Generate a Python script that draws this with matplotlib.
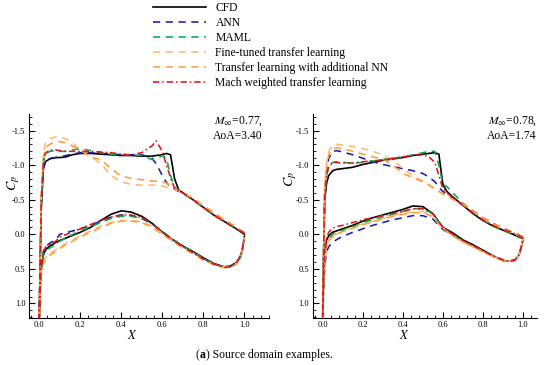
import matplotlib
matplotlib.use("Agg")
import matplotlib.pyplot as plt
from matplotlib.ticker import MultipleLocator, FormatStrFormatter

plt.rcParams['font.family'] = ['Liberation Serif', 'DejaVu Serif']
plt.rcParams['mathtext.fontset'] = 'stix'
plt.rcParams['axes.unicode_minus'] = False

# ---------------- data ----------------
# upper surface sample positions
XU_L = [0.0, 0.005, 0.01, 0.02, 0.03, 0.05, 0.08, 0.1, 0.13, 0.16, 0.2, 0.25, 0.3, 0.35, 0.4, 0.45,
        0.5, 0.55, 0.57, 0.6, 0.62, 0.64, 0.66, 0.68, 0.7, 0.75, 0.8, 0.85, 0.9, 0.95, 0.98, 1.0]
XU_R = [0.0, 0.005, 0.01, 0.02, 0.03, 0.05, 0.07, 0.1, 0.15, 0.2, 0.25, 0.3, 0.35, 0.4, 0.45, 0.5,
        0.53, 0.56, 0.58, 0.6, 0.62, 0.65, 0.7, 0.75, 0.8, 0.85, 0.9, 0.95, 0.98, 1.0]
# lower surface sample positions (both cases)
X_LOWER = [0.0, 0.005, 0.01, 0.02, 0.03, 0.05, 0.08, 0.1, 0.15, 0.2, 0.25, 0.3, 0.35, 0.4, 0.45,
           0.5, 0.55, 0.6, 0.65, 0.7, 0.75, 0.8, 0.85, 0.9, 0.93, 0.96, 0.98, 0.99, 1.0]

# case 1: Ma=0.77, AoA=3.40
cfd_up_1 = [1.2, 0.3, -0.4, -0.95, -1.05, -1.09, -1.11, -1.11, -1.12, -1.15, -1.17, -1.17, -1.16, -1.15, -1.14, -1.14,
            -1.13, -1.13, -1.14, -1.15, -1.17, -1.15, -0.8, -0.64, -0.6, -0.5, -0.39, -0.28, -0.19, -0.1, -0.04, 0.0]
ann_up_1 = [1.2, 0.3, -0.4, -0.95, -1.05, -1.1, -1.11, -1.12, -1.14, -1.16, -1.18, -1.18, -1.17, -1.16, -1.15, -1.15,
            -1.15, -1.1, -1.02, -0.85, -0.75, -0.68, -0.65, -0.62, -0.59, -0.5, -0.39, -0.28, -0.19, -0.1, -0.05, -0.02]
maml_up_1 = [1.2, 0.3, -0.5, -1.05, -1.15, -1.2, -1.21, -1.2, -1.2, -1.22, -1.24, -1.21, -1.18, -1.16, -1.15, -1.15,
             -1.14, -1.08, -1.09, -1.14, -1.1, -0.85, -0.68, -0.63, -0.6, -0.5, -0.39, -0.28, -0.19, -0.1, -0.05, -0.02]
ft_up_1 = [1.2, 0.3, -0.6, -1.15, -1.32, -1.38, -1.41, -1.41, -1.38, -1.33, -1.22, -1.12, -1.03, -0.85, -0.76, -0.72,
           -0.71, -0.71, -0.71, -0.7, -0.68, -0.67, -0.65, -0.63, -0.61, -0.52, -0.42, -0.32, -0.22, -0.13, -0.07, -0.02]
tlnn_up_1 = [1.2, 0.3, -0.6, -1.1, -1.25, -1.3, -1.34, -1.34, -1.32, -1.28, -1.22, -1.12, -1.08, -0.95, -0.84, -0.81,
             -0.79, -0.77, -0.77, -0.76, -0.74, -0.7, -0.66, -0.63, -0.6, -0.51, -0.41, -0.31, -0.21, -0.12, -0.06, -0.02]
mach_up_1 = [1.2, 0.3, -0.5, -1.05, -1.17, -1.22, -1.22, -1.21, -1.2, -1.2, -1.2, -1.2, -1.19, -1.18, -1.16, -1.15,
             -1.18, -1.28, -1.35, -1.2, -1.0, -0.82, -0.66, -0.63, -0.6, -0.5, -0.39, -0.28, -0.19, -0.1, -0.05, -0.02]

cfd_lo_1 = [1.2, 0.75, 0.5, 0.3, 0.23, 0.17, 0.12, 0.09, 0.03, -0.03, -0.1, -0.2, -0.29, -0.34, -0.32,
            -0.26, -0.16, -0.03, 0.08, 0.17, 0.25, 0.34, 0.42, 0.47, 0.46, 0.41, 0.32, 0.22, 0.03]
ann_lo_1 = [1.2, 0.7, 0.45, 0.25, 0.18, 0.13, 0.08, 0.0, -0.04, -0.08, -0.13, -0.19, -0.25, -0.28, -0.27,
            -0.23, -0.15, -0.04, 0.07, 0.17, 0.26, 0.35, 0.43, 0.47, 0.47, 0.42, 0.33, 0.22, 0.05]
maml_lo_1 = [1.2, 0.75, 0.5, 0.3, 0.24, 0.2, 0.14, 0.1, 0.02, -0.05, -0.11, -0.17, -0.23, -0.26, -0.26,
             -0.23, -0.15, -0.04, 0.07, 0.17, 0.26, 0.35, 0.43, 0.47, 0.47, 0.43, 0.34, 0.23, 0.05]
ft_lo_1 = [1.2, 0.8, 0.55, 0.4, 0.34, 0.28, 0.22, 0.18, 0.1, 0.02, -0.05, -0.12, -0.17, -0.2, -0.2,
           -0.18, -0.12, -0.02, 0.09, 0.19, 0.27, 0.36, 0.43, 0.47, 0.47, 0.42, 0.33, 0.22, 0.04]
tlnn_lo_1 = [1.2, 0.8, 0.58, 0.42, 0.36, 0.3, 0.25, 0.2, 0.12, 0.04, -0.03, -0.1, -0.16, -0.19, -0.19,
             -0.17, -0.1, 0.0, 0.1, 0.2, 0.28, 0.37, 0.44, 0.48, 0.47, 0.43, 0.34, 0.22, 0.04]
mach_lo_1 = [1.2, 0.7, 0.45, 0.25, 0.19, 0.15, 0.1, 0.04, -0.02, -0.08, -0.14, -0.2, -0.25, -0.28, -0.28,
             -0.24, -0.15, -0.03, 0.08, 0.18, 0.27, 0.36, 0.43, 0.48, 0.47, 0.42, 0.33, 0.22, 0.04]

# case 2: Ma=0.78, AoA=1.74
cfd_up_2 = [1.2, 0.2, -0.5, -0.75, -0.85, -0.92, -0.94, -0.95, -0.97, -1.01, -1.04, -1.07, -1.09, -1.11, -1.14, -1.16,
            -1.17, -1.18, -1.16, -0.72, -0.62, -0.54, -0.42, -0.3, -0.2, -0.12, -0.06, 0.0, 0.04, 0.06]
ann_up_2 = [1.2, 0.2, -0.6, -0.95, -1.1, -1.2, -1.21, -1.19, -1.15, -1.1, -1.05, -1.01, -0.98, -0.95, -0.92, -0.88,
            -0.83, -0.76, -0.68, -0.62, -0.58, -0.52, -0.44, -0.34, -0.24, -0.16, -0.09, -0.03, 0.01, 0.04]
maml_up_2 = [1.2, 0.2, -0.55, -0.85, -0.98, -1.04, -1.05, -1.04, -1.03, -1.04, -1.06, -1.08, -1.1, -1.12, -1.15, -1.18,
             -1.2, -1.2, -1.0, -0.72, -0.69, -0.6, -0.45, -0.32, -0.21, -0.12, -0.06, 0.0, 0.03, 0.05]
ft_up_2 = [1.2, 0.2, -0.7, -1.05, -1.2, -1.29, -1.3, -1.29, -1.27, -1.24, -1.2, -1.15, -1.07, -0.95, -0.85, -0.77,
           -0.72, -0.66, -0.62, -0.58, -0.55, -0.5, -0.43, -0.33, -0.23, -0.15, -0.08, -0.02, 0.02, 0.05]
tlnn_up_2 = [1.2, 0.2, -0.65, -1.0, -1.15, -1.24, -1.25, -1.24, -1.2, -1.16, -1.12, -1.09, -1.0, -0.88, -0.82, -0.76,
             -0.71, -0.66, -0.62, -0.59, -0.56, -0.51, -0.44, -0.34, -0.24, -0.16, -0.09, -0.03, 0.01, 0.04]
mach_up_2 = [1.2, 0.2, -0.55, -0.88, -0.98, -1.04, -1.04, -1.03, -1.03, -1.05, -1.06, -1.08, -1.1, -1.12, -1.14, -1.15,
             -1.12, -1.04, -0.85, -0.66, -0.6, -0.53, -0.42, -0.31, -0.21, -0.13, -0.07, -0.02, 0.02, 0.05]

cfd_lo_2 = [1.2, 0.6, 0.3, 0.08, 0.02, -0.03, -0.06, -0.08, -0.13, -0.19, -0.24, -0.28, -0.32, -0.36, -0.41,
            -0.4, -0.3, -0.1, -0.02, 0.08, 0.15, 0.23, 0.31, 0.38, 0.39, 0.37, 0.3, 0.2, 0.08]
ann_lo_2 = [1.2, 0.7, 0.45, 0.25, 0.18, 0.11, 0.06, 0.03, -0.03, -0.08, -0.13, -0.17, -0.21, -0.24, -0.27,
            -0.27, -0.22, -0.07, 0.02, 0.1, 0.17, 0.24, 0.31, 0.37, 0.39, 0.37, 0.3, 0.2, 0.07]
maml_lo_2 = [1.2, 0.6, 0.35, 0.12, 0.06, 0.0, -0.04, -0.06, -0.11, -0.17, -0.21, -0.25, -0.29, -0.33, -0.37,
             -0.37, -0.3, -0.1, 0.01, 0.1, 0.17, 0.24, 0.31, 0.37, 0.4, 0.38, 0.31, 0.21, 0.06]
ft_lo_2 = [1.2, 0.65, 0.4, 0.15, 0.08, 0.02, -0.02, -0.05, -0.1, -0.15, -0.19, -0.23, -0.27, -0.3, -0.32,
           -0.33, -0.27, -0.09, 0.02, 0.11, 0.18, 0.25, 0.32, 0.37, 0.39, 0.37, 0.3, 0.2, 0.06]
tlnn_lo_2 = [1.2, 0.65, 0.4, 0.15, 0.09, 0.03, -0.01, -0.04, -0.09, -0.14, -0.18, -0.22, -0.26, -0.29, -0.31,
             -0.32, -0.25, -0.08, 0.02, 0.11, 0.18, 0.25, 0.32, 0.38, 0.4, 0.38, 0.31, 0.2, 0.06]
mach_lo_2 = [1.2, 0.6, 0.3, 0.05, -0.03, -0.09, -0.12, -0.13, -0.17, -0.21, -0.24, -0.27, -0.3, -0.33, -0.37,
             -0.37, -0.3, -0.1, 0.0, 0.09, 0.16, 0.24, 0.31, 0.37, 0.39, 0.37, 0.3, 0.2, 0.07]

LABELS = ['CFD', 'ANN', 'MAML', 'Fine-tuned transfer learning',
          'Transfer learning with additional NN', 'Mach weighted transfer learning']
CASE_TEXT = ['$M_{\\infty}$=0.77,\nAoA=3.40', '$M_{\\infty}$=0.78,\nAoA=1.74']

# ---------------- styles ----------------
STYLES = [
    dict(color='black', lw=1.2, ls='-'),
    dict(color='#1c1caa', lw=1.15, ls=(0, (4.5, 3.5))),
    dict(color='#00ad4f', lw=1.15, ls=(0, (4.5, 3.5))),
    dict(color='#ffb774', lw=1.15, ls=(0, (4.5, 3.5))),
    dict(color='#ff9c3a', lw=1.15, ls=(0, (4.5, 3.5))),
    dict(color='#e3141c', lw=1.15, ls=(0, (4.0, 1.8, 1.0, 1.8))),
]


def loop(xu, cu, xl, cl):
    """upper surface from TE to LE, then lower surface LE to TE"""
    return list(xu[::-1]) + list(xl[1:]), list(cu[::-1]) + list(cl[1:])


def draw_case(ax, xu, ups, lows, xmax, text, text_x, ylab_x, ylab_y, xlab_x):
    lines = []
    for cu, cl, st, lab in zip(ups, lows, STYLES, LABELS):
        x, c = loop(xu, cu, X_LOWER, cl)
        ln, = ax.plot(x, c, label=lab, **st)
        lines.append(ln)
    ax.set_xlim(-0.05, xmax)
    ax.set_ylim(1.21, -1.74)
    ax.spines['top'].set_visible(False)
    ax.spines['right'].set_visible(False)
    ax.xaxis.set_major_locator(MultipleLocator(0.2))
    ax.xaxis.set_minor_locator(MultipleLocator(0.04))
    ax.yaxis.set_major_locator(MultipleLocator(0.5))
    ax.yaxis.set_minor_locator(MultipleLocator(0.1))
    ax.xaxis.set_major_formatter(FormatStrFormatter('%.1f'))
    ax.yaxis.set_major_formatter(FormatStrFormatter('%.1f'))
    ax.tick_params(which='both', direction='in', labelsize=6, pad=2.5)
    ax.tick_params(which='major', length=4.5, width=0.8)
    ax.tick_params(which='minor', length=2.4, width=0.6)
    ax.set_xlabel('$X$', fontsize=9)
    ax.set_ylabel('$C_p$', fontsize=10)
    ax.xaxis.set_label_coords(xlab_x, -0.055)
    ax.yaxis.set_label_coords(ylab_x, ylab_y)
    ax.text(text_x, 0.998, text, transform=ax.transAxes,
            ha='right', va='top', multialignment='center', fontsize=8.4, linespacing=1.2)
    return lines


fig = plt.figure(figsize=(5.5, 3.65), dpi=100)
ax1 = fig.add_axes([29 / 550, 1 - 318 / 365, 240 / 550, 204 / 365])
ax2 = fig.add_axes([312.7 / 550, 1 - 318 / 365, 224.3 / 550, 204 / 365])

handles = draw_case(ax1, XU_L,
                    [cfd_up_1, ann_up_1, maml_up_1, ft_up_1, tlnn_up_1, mach_up_1],
                    [cfd_lo_1, ann_lo_1, maml_lo_1, ft_lo_1, tlnn_lo_1, mach_lo_1],
                    1.12, CASE_TEXT[0], 0.975, -0.03, 0.66, 0.43)
draw_case(ax2, XU_R,
          [cfd_up_2, ann_up_2, maml_up_2, ft_up_2, tlnn_up_2, mach_up_2],
          [cfd_lo_2, ann_lo_2, maml_lo_2, ft_lo_2, tlnn_lo_2, mach_lo_2],
          1.07, CASE_TEXT[1], 1.0, -0.062, 0.68, 0.41)

fig.legend(handles=handles, labels=LABELS, loc='upper left',
           bbox_to_anchor=(153 / 550, 1 - 2 / 365), frameon=False,
           fontsize=8.4, handlelength=4.5, handletextpad=0.85,
           labelspacing=0.26, borderpad=0, borderaxespad=0)

# caption with bold "a"
CAP_Y = 1 - 358 / 365
t1 = fig.text(196 / 550, CAP_Y, '(', fontsize=8.4, ha='left', va='baseline')
fig.canvas.draw()
bb = t1.get_window_extent()
t2 = fig.text(bb.x1 / fig.bbox.width, CAP_Y, 'a', fontsize=8.4, fontweight='bold',
              ha='left', va='baseline')
fig.canvas.draw()
bb2 = t2.get_window_extent()
fig.text(bb2.x1 / fig.bbox.width, CAP_Y, ') Source domain examples.',
         fontsize=8.4, ha='left', va='baseline')

fig.savefig('out.png', dpi=100)
